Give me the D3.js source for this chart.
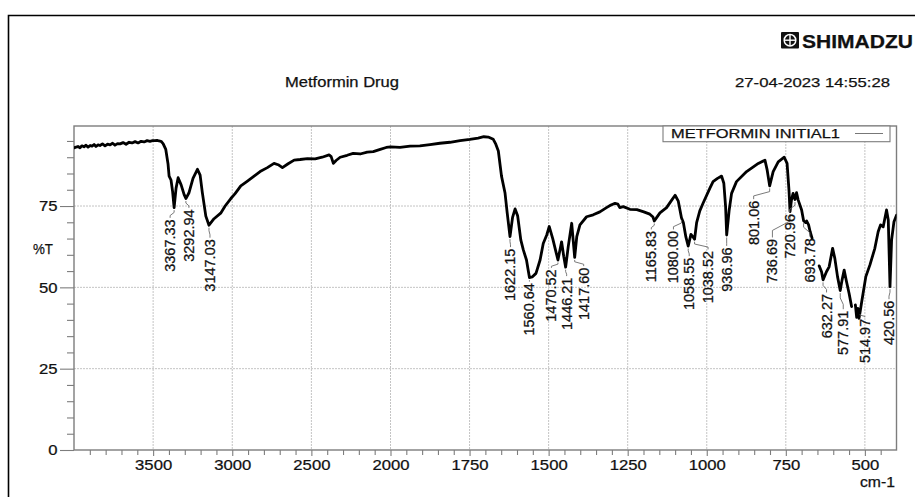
<!DOCTYPE html>
<html>
<head>
<meta charset="utf-8">
<script src="https://cdn.jsdelivr.net/npm/d3@7"></script>
<style>
  html, body { margin: 0; padding: 0; background: #fff; }
  svg { display: block; font-family: "Liberation Sans", Arial, Helvetica, sans-serif; }
  svg text { stroke: #111; stroke-width: 0.25px; }
</style>
</head>
<body>
<svg id="chart" width="915" height="497"></svg>
<script>
// ---- Spectrum data (wavenumber in cm-1, transmittance in %T) ----
// null transmittance marks a break in the recorded trace
const wavenumbers = [
  4000, 3975, 3962, 3950, 3937, 3924, 3911, 3898, 3886, 3873, 3861, 3848, 3836, 3820, 3804, 3788,
  3772, 3756, 3741, 3725, 3709, 3690, 3671, 3652, 3633, 3614, 3595, 3576, 3557, 3538, 3520, 3504,
  3488, 3475, 3463, 3450, 3437, 3420, 3406, 3399, 3387, 3377, 3367.33, 3355, 3342, 3323, 3304, 3292.94,
  3274, 3248, 3220, 3203, 3189, 3167, 3147.03, 3115, 3073, 3045, 3009, 2982, 2946, 2906, 2862, 2824,
  2778, 2736, 2710, 2683, 2647, 2609, 2571, 2525, 2476, 2432, 2388, 2375, 2361, 2344, 2318, 2274,
  2236, 2192, 2147, 2109, 2065, 2027, 2000,
  1970, 1938, 1907, 1875, 1844, 1812, 1780, 1749, 1723, 1705, 1691, 1675, 1667, 1659, 1649, 1638,
  1631, 1622.15, 1614, 1606, 1598, 1588, 1580, 1570, 1565, 1560.64, 1552, 1540, 1527, 1517, 1506, 1498,
  1487, 1477, 1470.52, 1459, 1452, 1446.21, 1438, 1427, 1417.60, 1411, 1401, 1380, 1359, 1338, 1317, 1303,
  1290, 1281, 1275, 1264, 1243, 1221, 1199, 1180, 1170, 1165.83, 1158, 1148, 1127, 1113, 1100, 1090,
  1080.00, 1074, 1066, 1058.55, 1050, 1044, 1038.52, 1032, 1022, 1011, 990, 980, 966, 953, 946, 940.4,
  936.96, 929, 921.5, 906, 874, 837, 816, 809, 801.06, 790, 774, 755, 746, 740, 736.69, 732,
  727, 720.96, 716, 711, 700, 693.78, 687, 684, 678, 673, 667,
  656,
  644.5, 637, 632.27, 621.5, 613, 602, 595, 586.5, 577.91, 572, 565.5, 558, 550, 542,
  536,
  530, 526, 522, 518.5, 514.97, 510, 497, 484, 468.5, 458, 450.5, 442, 431.5, 426, 420.56, 415.5,
  408, 400
];
const transmittance = [
  92.9, 93.3, 92.9, 93.5, 93.2, 93.7, 93.1, 93.6, 93.4, 93.9, 93.3, 93.8, 93.6, 94.1, 93.5, 94.0,
  93.8, 94.3, 93.7, 94.2, 94.1, 94.5, 94.0, 94.6, 94.4, 94.8, 94.4, 94.9, 94.7, 95.1, 94.9, 95.1,
  95.1, 95.2, 95.0, 94.9, 94.2, 92.4, 88.0, 84.2, 83.0, 79.5, 74.5, 80.5, 83.7, 81.5, 78.5, 77.3,
  79.0, 83.5, 86.3, 84.5, 79.1, 71.9, 69.1, 71.1, 72.8, 75.0, 77.3, 78.8, 81.2, 82.6, 84.2, 85.6,
  86.8, 88.1, 87.7, 86.8, 88.0, 89.1, 89.3, 89.6, 89.5, 90.0, 90.7, 90.2, 88.1, 89.0, 90.0, 90.6,
  91.2, 91.0, 91.6, 91.7, 92.4, 93.0, 93.2,
  93.0, 93.4, 93.5, 93.9, 94.3, 94.6, 95.1, 95.5, 95.9, 96.3, 96.2, 95.5, 94.0, 91.9, 84.2, 79.1,
  72.9, 65.6, 71.5, 74.1, 72.0, 64.6, 61.5, 58.4, 55.5, 53.0, 53.2, 54.3, 58.4, 63.5, 66.1, 68.7,
  65.0, 61.0, 58.4, 64.0, 59.4, 56.2, 62.5, 69.7, 59.2, 65.6, 69.2, 71.7, 72.3, 73.2, 74.5, 75.3,
  75.8, 75.6, 74.5, 74.8, 74.0, 73.9, 73.2, 72.5, 71.6, 70.4, 71.5, 72.9, 74.5, 76.5, 78.3, 76.5,
  71.4, 69.9, 65.5, 62.7, 66.3, 65.6, 64.8, 69.9, 73.5, 76.0, 80.5, 82.5, 83.5, 84.2, 82.0, 74.8,
  66.1, 73.8, 78.9, 82.5, 85.6, 88.1, 89.1, 86.1, 81.2, 85.6, 88.6, 90.0, 88.1, 79.9, 73.3, 76.9,
  78.9, 77.0, 79.1, 76.9, 73.8, 70.5, 69.9, 70.4, 69.2, 67.1, 65.1,
  null,
  56.6, 54.8, 52.3, 54.8, 56.3, 62.0, 58.9, 53.3, 49.0, 52.3, 55.3, 51.7, 48.2, 44.1,
  null,
  44.6, 40.8, 43.5, 40.5, 42.5, 45.6, 53.3, 56.9, 62.0, 67.1, 69.2, 68.6, 73.8, 70.7, 50.2, 64.6,
  70.2, 72.2
];

// Annotated band positions (cm-1)
const peakLabels = [
  "3367.33", "3292.94", "3147.03", "1622.15", "1560.64", "1470.52", "1446.21", "1417.60",
  "1165.83", "1080.00", "1058.55", "1038.52", "936.96", "801.06", "736.69", "720.96",
  "693.78", "632.27", "577.91", "514.97", "420.56"
];

const xMajorTicks = [3500, 3000, 2500, 2000, 1750, 1500, 1250, 1000, 750, 500];
const yMajorTicks = [0, 25, 50, 75];
const yGridValues = [25, 50, 75];

const chartTitle = "Metformin Drug";
const timestamp = "27-04-2023 14:55:28";
const seriesName = "METFORMIN INITIAL1";
const brand = "SHIMADZU";
const yAxisTitle = "%T";
const xAxisUnit = "cm-1";

// ---- Layout ----
const SX = 1.15;              // horizontal glyph stretch of axis numbers
const plot = { left: 74, right: 896.5, top: 126, bottom: 450 };
const FONT = 14.5;
const INK = "#111";

const svg = d3.select("#chart");

// x axis: wavenumber scale is expanded by 2x below 2000 cm-1
const x = d3.scaleLinear()
  .domain([4000, 2000, 400])
  .range([plot.left, 390.5, plot.right]);
const y = d3.scaleLinear()
  .domain([0, 100])
  .range([plot.bottom, 124.7]);

// text fitted to a given printed width
function fittedText(parent, px, py, str, size, width, anchor) {
  return parent.append("text")
    .attr("x", px).attr("y", py)
    .attr("text-anchor", anchor || "start")
    .attr("textLength", width).attr("lengthAdjust", "spacingAndGlyphs")
    .style("font-size", size + "px")
    .attr("fill", INK)
    .text(str);
}

// Outer page frame
svg.append("path")
  .attr("d", "M8.5,497 L8.5,15.5 L915,15.5")
  .attr("fill", "none").attr("stroke", "#000").attr("stroke-width", 1.6);

// Brand logo
const logo = svg.append("g");
logo.append("rect").attr("x", 781).attr("y", 32).attr("width", 18).attr("height", 16.5).attr("rx", 1).attr("fill", "#111");
logo.append("circle").attr("cx", 790).attr("cy", 40.2).attr("r", 5.8).attr("fill", "none").attr("stroke", "#fff").attr("stroke-width", 1.5);
logo.append("line").attr("x1", 790).attr("x2", 790).attr("y1", 34.4).attr("y2", 46).attr("stroke", "#fff").attr("stroke-width", 1.4);
logo.append("line").attr("x1", 784.2).attr("x2", 795.8).attr("y1", 40.2).attr("y2", 40.2).attr("stroke", "#fff").attr("stroke-width", 1.4);
logo.append("text")
  .attr("x", 802).attr("y", 47.8)
  .attr("textLength", 111).attr("lengthAdjust", "spacingAndGlyphs")
  .style("font-size", "17.5px").style("font-weight", "bold").attr("fill", "#111")
  .text(brand);

// Header texts
fittedText(svg, 285, 86.5, chartTitle, 14, 114);
fittedText(svg, 735, 86.5, timestamp, 13.5, 155);

// Grid lines
const grid = svg.append("g").attr("stroke", "#c4c4c4").attr("stroke-width", 1).attr("stroke-dasharray", "2,1");
grid.selectAll("line.gx").data(xMajorTicks).join("line")
  .attr("x1", d => x(d)).attr("x2", d => x(d))
  .attr("y1", plot.top).attr("y2", plot.bottom);
grid.selectAll("line.gy").data(yGridValues).join("line")
  .attr("x1", plot.left).attr("x2", plot.right)
  .attr("y1", d => y(d)).attr("y2", d => y(d));

// Minor ticks
const xMinor = [];
for (let v = 3900; v > 2000; v -= 100) if (v % 500 !== 0) xMinor.push(v);
for (let v = 1950; v >= 450; v -= 50) if (v % 250 !== 0) xMinor.push(v);
const yMinor = [];
for (let v = 5; v <= 95; v += 5) if (v % 25 !== 0) yMinor.push(v);

const axisColor = "#7d7d7d";

const gxMinor = svg.append("g").attr("transform", `translate(0,${plot.bottom})`)
  .call(d3.axisBottom(x).tickValues(xMinor).tickSize(5).tickFormat(""));
const gxMajor = svg.append("g").attr("transform", `translate(0,${plot.bottom})`)
  .call(d3.axisBottom(x).tickValues(xMajorTicks).tickSize(6).tickPadding(3).tickFormat(d3.format("d")));
const gyMinor = svg.append("g").attr("transform", `translate(${plot.left},0)`)
  .call(d3.axisLeft(y).tickValues(yMinor).tickSize(7).tickFormat(""));
const gyMajor = svg.append("g").attr("transform", `translate(${plot.left},0)`)
  .call(d3.axisLeft(y).tickValues(yMajorTicks).tickSize(14).tickFormat(d3.format("d")));

[gxMinor, gxMajor, gyMinor, gyMajor].forEach(g => {
  g.select(".domain").remove();
  g.selectAll(".tick line").attr("stroke", axisColor).attr("stroke-width", 1.1);
  g.selectAll("text").style("font-size", FONT + "px").style("font-family", "inherit").attr("fill", INK);
});
gxMajor.selectAll("text")
  .attr("y", 9.5)
  .attr("transform", `scale(${SX},1)`);
gyMajor.selectAll("text")
  .attr("x", -16.5 / SX)
  .attr("transform", `scale(${SX},1)`);

// Axis titles
fittedText(svg, 33, 254, yAxisTitle, 15, 20);
fittedText(svg, 895, 487, xAxisUnit, FONT, 35, "end");

// Plot border
svg.append("rect")
  .attr("x", plot.left).attr("y", plot.top)
  .attr("width", plot.right - plot.left).attr("height", plot.bottom - plot.top)
  .attr("fill", "none").attr("stroke", axisColor).attr("stroke-width", 1.4);

// Spectrum trace
const points = wavenumbers.map((wn, i) => ({ wn, t: transmittance[i] }));
svg.append("clipPath").attr("id", "plotClip")
  .append("rect").attr("x", plot.left).attr("y", plot.top)
  .attr("width", plot.right - plot.left).attr("height", plot.bottom - plot.top);

const line = d3.line()
  .defined(d => d.t !== null)
  .x(d => x(d.wn))
  .y(d => y(d.t));

svg.append("path")
  .datum(points)
  .attr("clip-path", "url(#plotClip)")
  .attr("d", line)
  .attr("fill", "none")
  .attr("stroke", "#000")
  .attr("stroke-width", 2.8)
  .attr("stroke-linejoin", "round")
  .attr("stroke-linecap", "round");

// Peak annotations: offset of the rotated label (centre x, top y) from its band minimum
const labelOffset = {
  "3367.33": [-4, 11.7], "3292.94": [3, 10.8], "3147.03": [1, 14], "1622.15": [0.5, 12],
  "1560.64": [0, 5.5], "1470.52": [-6.5, 9.3], "1446.21": [1, 10.4], "1417.60": [9, 10.2],
  "1165.83": [-3, 9.9], "1080.00": [-8, 13.2], "1058.55": [1, 11.6], "1038.52": [13.5, 11.7],
  "936.96": [0, 12.4], "801.06": [-16, 14.8], "736.69": [-17.6, 27.4], "720.96": [-5.3, 14.5],
  "693.78": [6.2, 17.5], "632.27": [3.5, 14.1], "577.91": [3, 20.1], "514.97": [4.7, 7],
  "420.56": [-1, 14]
};

const ann = svg.append("g");
peakLabels.forEach(lbl => {
  const wn = +lbl;
  const idx = wavenumbers.findIndex(w => Math.abs(w - wn) < 1e-6);
  const px = x(wn), py = y(transmittance[idx]);
  const [dx, dy] = labelOffset[lbl];
  const lx = px + dx, ly = py + dy;
  const y0 = py + 2.5, y1 = ly - 1.5;
  const mid1 = y0 + (y1 - y0) * 0.3, mid2 = y0 + (y1 - y0) * 0.7;
  ann.append("path")
    .attr("d", `M${px},${y0} L${px},${mid1} L${lx},${mid2} L${lx},${y1}`)
    .attr("fill", "none").attr("stroke", "#6b6b6b").attr("stroke-width", 0.9);
  ann.append("text")
    .attr("transform", `translate(${lx},${ly}) rotate(-90)`)
    .attr("text-anchor", "end")
    .attr("dominant-baseline", "central")
    .style("font-size", FONT + "px")
    .attr("fill", INK)
    .text(lbl);
});

// Legend
const legend = svg.append("g");
legend.append("rect")
  .attr("x", 663).attr("y", plot.top).attr("width", 227).attr("height", 15.7)
  .attr("fill", "#fff").attr("stroke", axisColor).attr("stroke-width", 1.1);
fittedText(legend, 671, 138.3, seriesName, 13, 169);
legend.append("line")
  .attr("x1", 855).attr("x2", 883).attr("y1", 133.5).attr("y2", 133.5)
  .attr("stroke", "#777").attr("stroke-width", 1);
</script>
</body>
</html>
